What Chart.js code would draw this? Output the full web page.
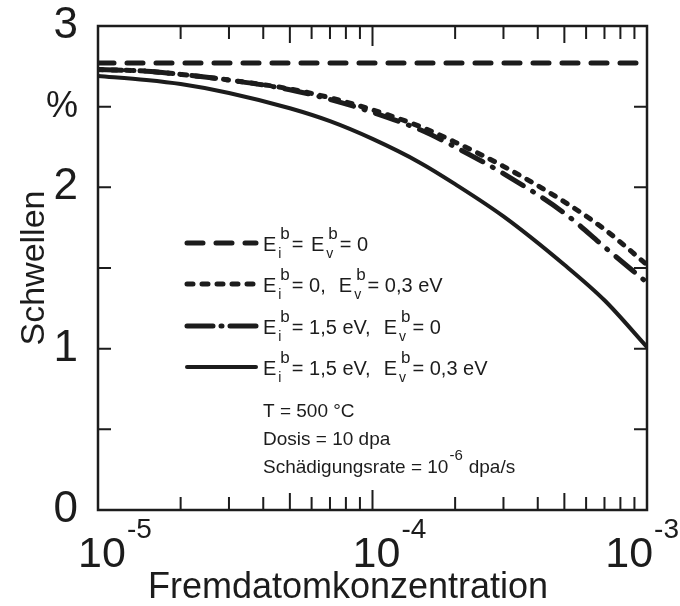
<!DOCTYPE html>
<html>
<head>
<meta charset="utf-8">
<script src="https://cdn.jsdelivr.net/npm/chart.js@4.4.1/dist/chart.umd.min.js"></script>
<style>
  html, body { margin: 0; padding: 0; background: #fff; }
  canvas { display: block; }
</style>
</head>
<body>
<canvas id="grafico" width="680" height="606"></canvas>
<script>
// Werte (Schwellen in %)
const konzentration = [1e-5, 1.5e-5, 2e-5, 3e-5, 5e-5, 7e-5, 1e-4, 1.5e-4, 2e-4, 3e-4, 5e-4, 7e-4, 1e-3];
const schwellenNull = [2.77, 2.77, 2.77, 2.77, 2.77, 2.77, 2.77, 2.77, 2.77, 2.77, 2.77, 2.77, 2.77];
const schwellenEv03 = [2.73, 2.72, 2.70, 2.665, 2.61, 2.555, 2.48, 2.375, 2.28, 2.13, 1.91, 1.74, 1.52];
const schwellenEi15 = [2.73, 2.72, 2.70, 2.665, 2.605, 2.545, 2.465, 2.355, 2.25, 2.085, 1.84, 1.63, 1.41];
const schwellenBeide = [2.69, 2.665, 2.64, 2.585, 2.49, 2.41, 2.30, 2.15, 2.02, 1.82, 1.52, 1.30, 1.01];

// achsen
const xTickLabels = [[1e-5, "-5"], [1e-4, "-4"], [1e-3, "-3"]];
const xMinorTicks = [2e-5, 3e-5, 4e-5, 5e-5, 6e-5, 7e-5, 8e-5, 9e-5, 2e-4, 3e-4, 4e-4, 5e-4, 6e-4, 7e-4, 8e-4, 9e-4];
const yTickLabels = ["0", "", "1", "", "2", "%", "3"];
const yTickWerte = [0.5, 1, 1.5, 2, 2.5];

// legende: [index] -> E mit Index und hochgestelltem b
const legendeZeilen = [
  [["i"], "= ", ["v"], "= 0"],
  [["i"], "= 0,  ", ["v"], "= 0,3 eV"],
  [["i"], "= 1,5 eV,  ", ["v"], "= 0"],
  [["i"], "= 1,5 eV,  ", ["v"], "= 0,3 eV"]
];
const infoText = ["T = 500 °C", "Dosis = 10 dpa", "Schädigungsrate = 10", "-6", "dpa/s"];

const FONT = "'Liberation Sans', sans-serif";
const INK = "#1c1c1c";

const stile = [
  { borderDash: [16, 13], borderWidth: 5 },
  { borderDash: [5, 9], borderWidth: 5 },
  { borderDash: [24, 11, 1, 11], borderWidth: 5 },
  { borderDash: [], borderWidth: 4 }
];
const reihen = [schwellenNull, schwellenEv03, schwellenEi15, schwellenBeide];

const datasets = reihen.map((werte, i) => ({
  data: konzentration.map((k, j) => ({ x: k, y: werte[j] })),
  borderColor: INK,
  borderWidth: stile[i].borderWidth,
  borderDash: stile[i].borderDash,
  borderCapStyle: "round",
  cubicInterpolationMode: "monotone",
  pointRadius: 0,
  fill: false
}));

function zeichneE(ctx, x, y, idx) {
  ctx.font = "20px " + FONT;
  ctx.fillText("E", x, y);
  x += ctx.measureText("E").width + 1;
  ctx.font = "14px " + FONT;
  ctx.fillText(idx, x + 1, y + 7);
  ctx.font = "17px " + FONT;
  ctx.fillText("b", x + 3, y - 12);
  return x + ctx.measureText("b").width + 5;
}

const rahmenPlugin = {
  id: "rahmen",
  afterDraw(chart) {
    const ctx = chart.ctx;
    const a = chart.chartArea;
    const xs = chart.scales.x;
    const ys = chart.scales.y;
    ctx.save();
    ctx.strokeStyle = INK;
    ctx.fillStyle = INK;
    ctx.lineWidth = 2.5;
    ctx.setLineDash([]);
    ctx.strokeRect(a.left, a.top, a.right - a.left, a.bottom - a.top);

    // ticks nach innen
    ctx.lineWidth = 2;
    ctx.beginPath();
    xMinorTicks.concat([1e-4]).forEach(v => {
      const px = xs.getPixelForValue(v);
      let len = 13;
      if (v === 1e-4) len = 20;
      else if (Math.abs(v / 5e-5 - 1) < 1e-6 || Math.abs(v / 5e-4 - 1) < 1e-6) len = 17;
      ctx.moveTo(px, a.top); ctx.lineTo(px, a.top + len);
      ctx.moveTo(px, a.bottom); ctx.lineTo(px, a.bottom - len);
    });
    yTickWerte.forEach(v => {
      const py = ys.getPixelForValue(v);
      ctx.moveTo(a.left, py); ctx.lineTo(a.left + 13, py);
      ctx.moveTo(a.right, py); ctx.lineTo(a.right - 13, py);
    });
    ctx.stroke();

    // x beschriftung 10^n
    ctx.textBaseline = "alphabetic";
    ctx.textAlign = "left";
    xTickLabels.forEach(([v, exp]) => {
      const px = xs.getPixelForValue(v);
      ctx.font = "43px " + FONT;
      const w = ctx.measureText("10").width;
      ctx.font = "28px " + FONT;
      const we = ctx.measureText(exp).width;
      let x0 = px - w / 2 + 4;
      if (x0 + w + we + 2 > 680) x0 = 680 - w - we - 2;
      ctx.font = "43px " + FONT;
      ctx.fillText("10", x0, 567);
      ctx.font = "28px " + FONT;
      ctx.fillText(exp, x0 + w + 1, 538);
    });

    // achsentitel
    ctx.font = "36px " + FONT;
    ctx.textAlign = "center";
    ctx.fillText("Fremdatomkonzentration", 348, 598);
    ctx.save();
    ctx.translate(44, (a.top + a.bottom) / 2);
    ctx.rotate(-Math.PI / 2);
    ctx.font = "34px " + FONT;
    ctx.fillText("Schwellen", 0, 0);
    ctx.restore();

    // legende
    const zeilenY = [243, 284, 326, 367];
    legendeZeilen.forEach((zeile, i) => {
      const y = zeilenY[i];
      ctx.save();
      ctx.lineWidth = stile[i].borderWidth;
      ctx.lineCap = "round";
      ctx.setLineDash(i === 1 ? [6, 9] : i === 2 ? [26, 8, 1, 8] : stile[i].borderDash);
      ctx.beginPath();
      ctx.moveTo(187, y); ctx.lineTo(256, y);
      ctx.stroke();
      ctx.restore();
      let x = 263;
      ctx.textAlign = "left";
      zeile.forEach(teil => {
        if (Array.isArray(teil)) {
          x = zeichneE(ctx, x, y + 8, teil[0]);
        } else {
          ctx.font = "20px " + FONT;
          ctx.fillText(teil, x, y + 8);
          x += ctx.measureText(teil).width + 2;
        }
      });
    });

    ctx.font = "19px " + FONT;
    ctx.textAlign = "left";
    ctx.fillText(infoText[0], 263, 417);
    ctx.fillText(infoText[1], 263, 445);
    ctx.fillText(infoText[2], 263, 473);
    let x = 263 + ctx.measureText(infoText[2]).width + 1;
    ctx.font = "15px " + FONT;
    ctx.fillText(infoText[3], x, 460);
    x += ctx.measureText(infoText[3]).width + 6;
    ctx.font = "19px " + FONT;
    ctx.fillText(infoText[4], x, 473);
    ctx.restore();
  }
};

const canvas = document.getElementById("grafico");
new Chart(canvas, {
  type: "line",
  data: { datasets: datasets },
  options: {
    responsive: false,
    animation: false,
    layout: { padding: { top: 26, right: 33, left: 0, bottom: 0 } },
    plugins: { legend: { display: false }, tooltip: { enabled: false } },
    scales: {
      x: {
        type: "logarithmic",
        min: 1e-5,
        max: 1e-3,
        grid: { display: false },
        border: { display: false },
        ticks: { display: false },
        afterFit(s) { s.height = 96; s.paddingLeft = 0; s.paddingRight = 0; }
      },
      y: {
        min: 0,
        max: 3,
        grid: { display: false },
        border: { display: false },
        ticks: {
          stepSize: 0.5,
          padding: 12,
          color: INK,
          font: (c) => ({ family: FONT, size: c.index === 5 ? 36 : 44, lineHeight: 1 }),
          callback: (v, i) => yTickLabels[i]
        },
        afterFit(s) { s.width = 98; s.paddingTop = 0; s.paddingBottom = 0; }
      }
    }
  },
  plugins: [rahmenPlugin]
});
</script>
</body>
</html>
